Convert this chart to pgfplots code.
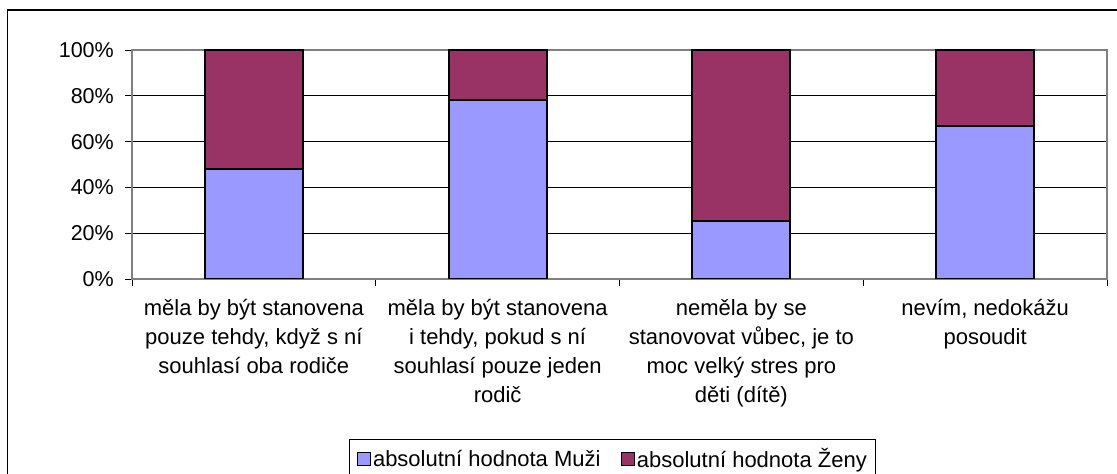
\documentclass[border=0pt]{standalone}
\usepackage{pgfplots}
\pgfplotsset{compat=1.18}
\usepackage{fontspec}
\setmainfont{Liberation Sans}
\definecolor{muzi}{HTML}{9999FF}
\definecolor{zeny}{HTML}{993366}
\newcommand{\chartfont}{\fontsize{22}{29}\selectfont}
\newcommand{\yfont}{\fontsize{21.5}{29}\selectfont}
\begin{document}
\chartfont
\begin{tikzpicture}[x=1pt,y=1pt]
\path[use as bounding box] (0,0) rectangle (1117,474);
\begin{scope}
\clip (0,0) rectangle (1117,474);
\draw[black, line width=1.2pt] (7.5,-20) rectangle (1125,464);
\end{scope}
\begin{axis}[
  at={(132pt,195pt)}, anchor=south west,
  width=975pt, height=229pt, scale only axis,
  xmin=-0.5, xmax=3.5, ymin=0, ymax=100,
  ybar stacked, bar width=98pt,
  ytick={0,20,40,60,80,100},
  yticklabels={0\%,20\%,40\%,60\%,80\%,100\%},
  tick label style={font=\chartfont},
  yticklabel style={inner sep=0pt, xshift=-11pt, font=\yfont},
  xtick={0,1,2,3},
  xticklabels={{měla by být stanovena\\pouze tehdy, když s ní\\souhlasí oba rodiče},
               {měla by být stanovena\\i tehdy, pokud s ní\\souhlasí pouze jeden\\rodič},
               {neměla by se\\stanovovat vůbec, je to\\moc velký stres pro\\děti (dítě)},
               {nevím, nedokážu\\posoudit}},
  xticklabel style={align=center, anchor=north, yshift=-6pt, font=\chartfont},
  minor xtick={-0.5,0.5,1.5,2.5,3.5},
  tick pos=left,
  major x tick style={draw=none},
  minor x tick style={black, line width=0.8pt},
  major y tick style={black, line width=0.8pt},
  major tick length=7pt, minor tick length=7pt,
  tick align=outside,
  ymajorgrids, grid style={black, line width=0.8pt},
  axis line style={draw=gray, line width=1.5pt},
  legend columns=2,
  legend style={at={(0.2228,-0.6986)}, anchor=north west, draw=black, line width=0.8pt,
    font=\chartfont, inner sep=7pt,
    /tikz/every even column/.append style={column sep=18pt}},
  legend image code/.code={\draw[#1, draw=black, line width=1.4pt] (0pt,-6pt) rectangle (13pt,7pt);},
]
\addplot[fill=muzi, draw=black, line width=2pt] coordinates {(0,47.9) (1,78.2) (2,25.2) (3,66.8)};
\addplot[fill=zeny, draw=black, line width=2pt] coordinates {(0,52.1) (1,21.8) (2,74.8) (3,33.2)};
\legend{absolutní hodnota Muži, absolutní hodnota Ženy}
\end{axis}
\end{tikzpicture}
\end{document}
